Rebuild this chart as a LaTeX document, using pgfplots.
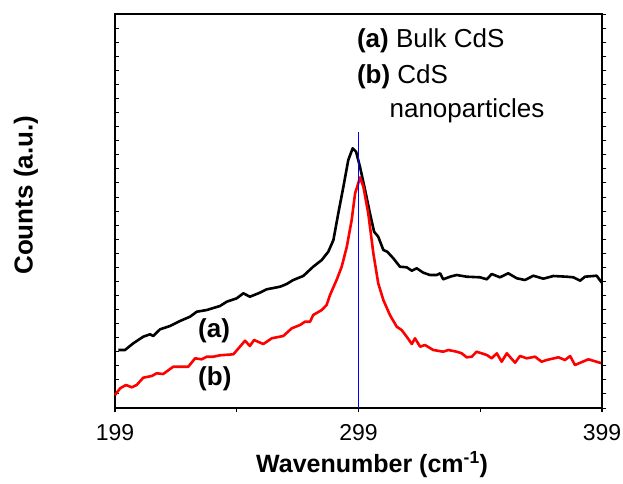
\documentclass[border=0pt]{standalone}
\usepackage{fontspec}
\setmainfont{Liberation Sans}
\usepackage{pgfplots}
\pgfplotsset{compat=1.18}
\begin{document}
\begin{tikzpicture}[x=1pt,y=1pt]
\useasboundingbox (0,0) rectangle (623,483);
\begin{axis}[
  at={(115pt,75pt)}, anchor=south west,
  width=487pt, height=394pt, scale only axis,
  xmin=199, xmax=399, ymin=0, ymax=394,
  axis line style={line width=1.4pt},
  xtick={199,299,399}, minor xtick={249,349},
  xtick pos=bottom, ytick pos=left,
  x tick style={line width=1.2pt, black},
  y tick style={line width=0.9pt, black},
  xtick align=outside, ytick align=inside,
  major tick length=4pt, minor tick length=4pt,
  ytick distance=14.07, yticklabels={},
  /pgf/number format/assume math mode=true,
  /pgf/number format/set thousands separator={},
  xticklabel style={font=\fontsize{23}{27}\selectfont, inner sep=0pt, anchor=north, yshift=-12pt},
  xlabel={\textbf{Wavenumber (cm\textsuperscript{-1})}},
  ylabel={\textbf{Counts (a.u.)}},
  xlabel style={font=\fontsize{25}{30}\selectfont, at={(axis description cs:0.528,-0.164)}, anchor=base, inner sep=0pt},
  ylabel style={font=\fontsize{26}{30}\selectfont, at={(axis description cs:-0.169,0.54)}, anchor=base, inner sep=0pt},
  clip=false,
]
% (a) Bulk CdS
\addplot[black, line width=2.6pt, line join=round] coordinates {
(200.4,58) (203.1,58) (206.5,64.7) (210.6,71.3) (213.4,73.7) (214.7,72) (217.5,78.7) (221.6,82) (225.7,87) (229.8,91.3) (232.6,96.3) (236.7,98) (242.1,102) (244.9,106.3) (249,109.7) (251.7,114.7) (254.4,111.3) (258.5,115.3) (261.3,118.7) (266.8,121.3) (269.5,124) (272.2,128) (276.3,132) (280.4,141.3) (283.9,148) (286.6,156.3) (288.7,168) (290.7,194.7) (292.8,221.3) (294.8,248) (296.6,259.7) (298,256.3) (299.6,241.3) (301.7,218) (303.7,194.7) (305.4,176.3) (307.1,171.3) (309.2,158) (310.8,156.3) (313.3,149.7) (316,141.3) (318.8,140.7) (320.9,137.3) (322.9,139.7) (325.6,135.3) (328.4,133) (331.1,133) (332.5,134.7) (333.8,128.7) (336.6,131.3) (339.3,133) (343.4,131.3) (348.9,130.7) (351.7,128.7) (353.7,134) (357.1,130.7) (360.5,134.7) (364,129.7) (367.4,128) (370.8,132.3) (374.9,129.3) (379,132) (384.5,131.3) (387.2,130.7) (390,127.3) (392,131.3) (396.8,132.3) (398.9,125.3)
};
% (b) CdS nanoparticles
\addplot[red, line width=2.6pt, line join=round] coordinates {
(199,13) (201.1,19.7) (203.5,23) (205.9,20.7) (207.9,23) (210.6,30.3) (214.1,32) (216.1,34.7) (218.8,34) (222.9,41.3) (229.1,41.3) (231.9,49.7) (234.6,48.7) (236.7,51.3) (239.4,51.3) (242.1,52.7) (247.6,53.7) (250.3,61.3) (252.4,67.3) (254.4,62) (256.1,68) (259.9,64) (263.4,69.7) (268.1,72) (271.6,79.7) (275,83) (277,86.3) (279.1,86.3) (280.4,93) (283.9,98) (285.9,103) (287.3,113) (290,128) (292.1,141.3) (294.2,161.3) (296.2,188) (297.6,214.7) (298.7,223) (299.6,230.7) (301,221.3) (303,194.7) (305.1,154.7) (307.1,124.7) (309.2,108) (311.9,93) (314.7,81.3) (316.7,78) (318.8,71.3) (320.9,64) (322.2,69.7) (324.3,61.3) (326.3,63) (329.7,58) (333.8,56.3) (335.9,58) (339.3,56.3) (341.4,54.7) (343.4,50.7) (345.5,51.3) (347.5,56.3) (351.7,53) (353.7,49.7) (355.8,54.7) (357.8,46.3) (359.9,54.7) (363.3,45.3) (365.3,52) (368.1,49.7) (371.5,51.3) (374.2,46.3) (376.3,48) (381.1,50.7) (383.8,48) (385.9,52) (387.9,43) (393.4,48.7) (398.9,44.7)
};
% reference line
\addplot[blue, line width=1.1pt] coordinates {(299,0) (299,276.3)};
\node[anchor=base west, inner sep=0pt, font=\fontsize{26}{30}\selectfont] at (axis cs:298.3,360) {\textbf{(a)} Bulk CdS};
\node[anchor=base west, inner sep=0pt, font=\fontsize{26}{30}\selectfont] at (axis cs:298.3,324.3) {\textbf{(b)} CdS};
\node[anchor=base west, inner sep=0pt, font=\fontsize{26}{30}\selectfont] at (axis cs:311.7,291) {nanoparticles};
\node[anchor=base west, inner sep=0pt, font=\fontsize{26}{30}\selectfont] at (axis cs:233.1,71) {\textbf{(a)}};
\node[anchor=base west, inner sep=0pt, font=\fontsize{26}{30}\selectfont] at (axis cs:233.1,23) {\textbf{(b)}};
\end{axis}
\begin{axis}[
  at={(115pt,75pt)}, anchor=south west,
  width=487pt, height=394pt, scale only axis,
  xmin=199, xmax=399, ymin=0, ymax=394,
  axis x line=none, axis y line*=right,
  axis line style={line width=1.4pt, -},
  ytick distance=14.07, yticklabels={},
  ytick align=outside, major tick length=4pt,
  y tick style={line width=0.9pt, black},
]
\end{axis}
\end{tikzpicture}
\end{document}
